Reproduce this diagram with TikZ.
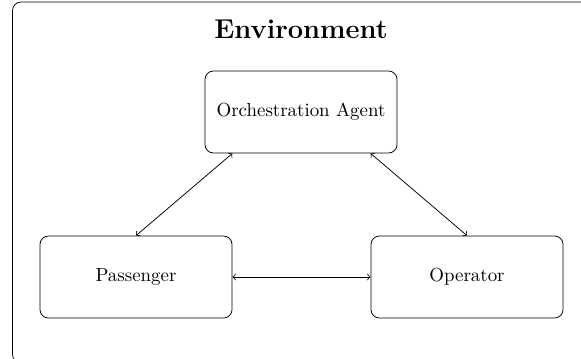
\documentclass[tikz,border=0pt]{standalone}
\begin{document}
\begin{tikzpicture}[x=0.529pt,y=-0.529pt,
  agentbox/.style={draw, rounded corners=4.5pt, minimum width=101.6pt, minimum height=43.4pt, align=center},
  link/.style={<->}]
\useasboundingbox (0,0) rectangle (581,358);
\clip (0,0) rectangle (581,358);
\draw[rounded corners=4.5pt] (12.5,2) rectangle (600,363);
\node[font=\Large\bfseries] (env) at (301,29) {Environment};
\node[agentbox] (orch) at (301,112) {Orchestration Agent};
\node[agentbox] (pass) at (136,277) {Passenger};
\node[agentbox] (oper) at (467,277) {Operator};
\draw[link] (pass.north) -- (orch.south west -| pass.east);
\draw[link] (oper.north) -- (orch.south east -| oper.west);
\draw[link] (pass.east) -- (oper.west);
\end{tikzpicture}
\end{document}
